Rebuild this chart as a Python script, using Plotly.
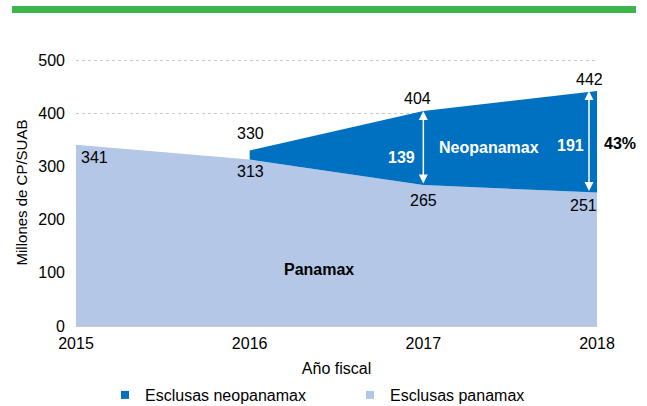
import plotly.graph_objects as go

years = [2015, 2016, 2017, 2018]
panamax = [341, 313, 265, 251]
neo_years = [2016, 2017, 2018]
neopanamax = [17, 139, 191]
neo_base = [313, 265, 251]
neo_top = [b + n for b, n in zip(neo_base, neopanamax)]
pct_label = "43%"

C_NEO = "#0070C0"
C_PAN = "#B4C7E7"
FONT = "Liberation Sans Narrow, Arial Narrow, Liberation Sans, Arial, sans-serif"

fig = go.Figure()
fig.add_trace(go.Scatter(x=years, y=panamax, mode="lines", line=dict(width=0),
                         fill="tozeroy", fillcolor=C_PAN, showlegend=False, hoverinfo="skip"))
fig.add_trace(go.Scatter(x=neo_years, y=neo_base, mode="lines", line=dict(width=0),
                         showlegend=False, hoverinfo="skip"))
fig.add_trace(go.Scatter(x=neo_years, y=neo_top, mode="lines", line=dict(width=0),
                         fill="tonexty", fillcolor=C_NEO, showlegend=False, hoverinfo="skip"))
# legend entries
fig.add_trace(go.Scatter(x=[None], y=[None], mode="markers", name="Esclusas neopanamax",
                         marker=dict(symbol="square", size=8, color=C_NEO)))
fig.add_trace(go.Scatter(x=[None], y=[None], mode="markers", name="Esclusas panamax",
                         marker=dict(symbol="square", size=8, color=C_PAN)))

ann = []
def lab(x, y, text, xs=0, ys=0, color="#000", bold=False, size=16):
    ann.append(dict(x=x, y=y, xref="x", yref="y", text=f"<b>{text}</b>" if bold else text,
                    showarrow=False, xshift=xs, yshift=ys,
                    font=dict(family=FONT, size=size, color=color)))

lab(years[0], panamax[0], str(panamax[0]), xs=18, ys=-13)
lab(years[1], neo_top[0], str(neo_top[0]), xs=1, ys=+17)
lab(years[1], panamax[1], str(panamax[1]), xs=1, ys=-12)
lab(years[2], neo_top[1], str(neo_top[1]), xs=-6, ys=+13)
lab(years[2], panamax[2], str(panamax[2]), xs=0, ys=-15)
lab(years[3], neo_top[2], str(neo_top[2]), xs=-8, ys=+11)
lab(years[3], panamax[3], str(panamax[3]), xs=-14, ys=-13)
lab(years[2], (neo_top[1] + panamax[2]) / 2, str(neopanamax[1]), xs=-22, ys=-9, color="#fff", bold=True)
lab(years[3], (neo_top[2] + panamax[3]) / 2, str(neopanamax[2]), xs=-27, ys=-4, color="#fff", bold=True)
lab(2017.38, 335, "Neopanamax", color="#fff", bold=True)
lab(years[3], (neo_top[2] + panamax[3]) / 2, pct_label, xs=23, ys=-2, bold=True)
lab(2016.4, 107, "Panamax", bold=True)

# double arrows
for xx, lo, hi, xs in [(years[2], panamax[2], neo_top[1], 0), (years[3], panamax[3], neo_top[2], -8)]:
    ann.append(dict(x=xx, y=hi, ax=xx, ay=lo, xref="x", yref="y", axref="x", ayref="y",
                    showarrow=True, arrowhead=2, arrowside="end+start", arrowsize=1.2,
                    arrowwidth=1.5, arrowcolor="#fff", text="", xshift=xs))

def py(px):
    return (326 - px) / 267
def px_(x):
    return (x - 76) / 521

fig.update_layout(
    width=647, height=406,
    margin=dict(l=76, r=50, t=59, b=80, autoexpand=False),
    paper_bgcolor="white", plot_bgcolor="white",
    font=dict(family=FONT, size=16, color="#000"),
    annotations=ann,
    showlegend=True,
    legend=dict(orientation="h", x=px_(105), y=py(395), xanchor="left", yanchor="middle",
                traceorder="normal", font=dict(size=16), entrywidth=200, itemwidth=30),
    shapes=[dict(type="rect", xref="paper", yref="paper", x0=px_(12), x1=px_(636),
                 y0=py(13), y1=py(6), line=dict(width=0), fillcolor="#3CB54A")],
)

fig.update_xaxes(range=[2015, 2018], tickvals=years, ticktext=[str(y) for y in years],
                 showgrid=False, zeroline=False, showline=True, linecolor="#c8c8c8", linewidth=1,
                 title=dict(text="Año fiscal", standoff=11, font=dict(size=16)), ticks="",
                 ticklabelstandoff=3, automargin=False)
fig.update_yaxes(range=[0, 502], tickvals=[0, 100, 200, 300, 400, 500],
                 showgrid=True, gridcolor="#c8c8c8", griddash="dot", gridwidth=1,
                 zeroline=False, showline=False, ticks="", ticklabelstandoff=10,
                 title=dict(text="Millones de CP/SUAB", standoff=7, font=dict(size=15)),
                 automargin=False)

fig.write_html("out.html", config={"displayModeBar": False},
               post_script="document.body.style.margin='0';")
